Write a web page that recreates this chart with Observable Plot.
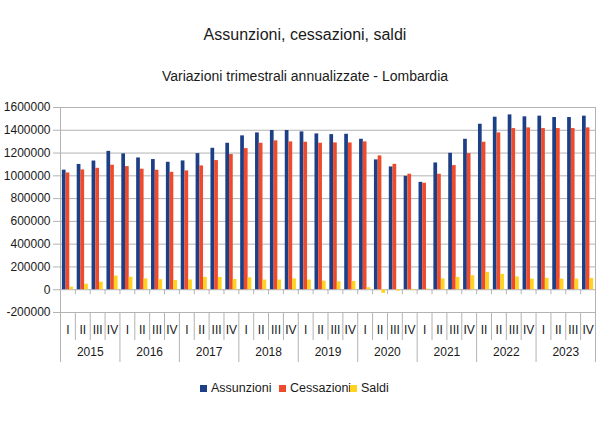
<!DOCTYPE html>
<html>
<head>
<meta charset="utf-8">
<script src="https://cdn.jsdelivr.net/npm/d3@7"></script>
<script src="https://cdn.jsdelivr.net/npm/@observablehq/plot@0.6"></script>
<style>
  html, body { margin: 0; padding: 0; background: #fff; }
  body { width: 610px; height: 431px; font-family: "Liberation Sans", Arial, sans-serif; color: #1a1a1a; position: relative; overflow: hidden; }
  #head { position: relative; height: 95px; }
  #title { position: absolute; top: 25px; left: 0; width: 610px; text-align: center; font-size: 16px; line-height: 20px; }
  #subtitle { position: absolute; top: 67px; left: 0; width: 610px; text-align: center; font-size: 14px; line-height: 18px; }
  #chart svg { display: block; }
  #legend { position: relative; height: 26px; font-size: 12.5px; line-height: 26px; white-space: nowrap; }
  #legend .item { position: absolute; top: 0; }
  #legend .sw { display: inline-block; width: 7px; height: 7px; margin-right: 4px; vertical-align: 0px; }
</style>
</head>
<body>
<div id="head">
  <div id="title">Assunzioni, cessazioni, saldi</div>
  <div id="subtitle">Variazioni trimestrali annualizzate - Lombardia</div>
</div>
<div id="chart"></div>
<div id="legend"></div>
<script>
// ---- data ----
const years = [2015, 2016, 2017, 2018, 2019, 2020, 2021, 2022, 2023];
const quarterLabels = [
  "I","II","III","IV", "I","II","III","IV", "I","II","III","IV",
  "I","II","III","IV", "I","II","III","IV", "I","II","III","IV",
  "I","II","III","IV", "II","II","III","IV", "I","II","III","IV"
];
const assunzioni = [
  1050000, 1100000, 1130000, 1215000,
  1193000, 1157000, 1143000, 1119000,
  1131000, 1195000, 1242000, 1286000,
  1351000, 1377000, 1398000, 1398000,
  1386000, 1368000, 1362000, 1365000,
  1321000, 1140000, 1078000, 996000,
  943000, 1113000, 1198000, 1321000,
  1453000, 1515000, 1535000, 1518000,
  1524000, 1512000, 1512000, 1524000
];
const cessazioni = [
  1025000, 1052000, 1066000, 1093000,
  1081000, 1058000, 1049000, 1031000,
  1043000, 1087000, 1134000, 1187000,
  1239000, 1286000, 1307000, 1298000,
  1295000, 1286000, 1289000, 1289000,
  1298000, 1175000, 1101000, 1014000,
  935000, 1014000, 1090000, 1195000,
  1295000, 1377000, 1415000, 1421000,
  1415000, 1415000, 1415000, 1421000
];
const saldi = [
  22000, 48000, 66000, 120000,
  110000, 95000, 88000, 80000,
  86000, 108000, 108000, 90000,
  105000, 85000, 85000, 95000,
  85000, 75000, 70000, 73000,
  18000, -32000, -12000, -8000,
  5000, 95000, 108000, 123000,
  152000, 135000, 112000, 93000,
  100000, 93000, 93000, 99000
];
const yTicks = [-200000, 0, 200000, 400000, 600000, 800000, 1000000, 1200000, 1400000, 1600000];
const seriesNames = ["Assunzioni", "Cessazioni", "Saldi"];
const seriesColors = ["#1c3f86", "#ee4a2b", "#ffd320"];

// ---- table ----
const table = assunzioni.map((a, i) => ({
  key: years[Math.floor(i / 4)] + "-" + (i % 4),
  year: years[Math.floor(i / 4)],
  qi: i % 4,
  ql: quarterLabels[i],
  assunzioni: a,
  cessazioni: cessazioni[i],
  saldi: saldi[i]
}));
const keys = table.map(d => d.key);

// ---- layout ----
const W = 610, H = 280, ML = 60, MR = 15, MT = 12, MB = 63;
const bw = (W - ML - MR) / keys.length;
const sub = bw / 4;
const grid = "#b3b3b3";
const yMin = yTicks[0];

const barOpts = (field, k) => ({
  x: "key", y: field, fill: seriesColors[k],
  insetLeft: sub * (0.5 + k), insetRight: bw - sub * (1.5 + k)
});

const chart = Plot.plot({
  width: W, height: H,
  marginLeft: ML, marginRight: MR, marginTop: MT, marginBottom: MB,
  style: { fontFamily: "'Liberation Sans', Arial, sans-serif", fontSize: "12px", color: "#1a1a1a", background: "#fff" },
  x: { type: "band", domain: keys, padding: 0, axis: null },
  y: { type: "linear", domain: [yTicks[0], yTicks[yTicks.length - 1]], axis: null },
  marks: [
    Plot.ruleY(yTicks, { y: d => d, stroke: grid, strokeWidth: 1 }),
    Plot.tickY(yTicks, { y: d => d, stroke: grid, insetLeft: -7, insetRight: W - ML - MR }),
    Plot.text(yTicks, { y: d => d, text: d => String(d), frameAnchor: "left", textAnchor: "end", dx: -10, fontSize: 12, fill: "#1a1a1a" }),
    Plot.ruleX([keys[0]], { x: d => d, dx: -bw / 2, stroke: grid }),
    Plot.ruleX([keys[keys.length - 1]], { x: d => d, dx: bw / 2, stroke: grid, insetBottom: -50 }),
    Plot.ruleX(keys, { x: d => d, dx: -bw / 2, y1: 0, y2: 0, insetBottom: -5, stroke: grid }),
    Plot.ruleX(table.filter(d => d.qi !== 0), { x: "key", dx: -bw / 2, y1: yMin, y2: yMin, insetBottom: -28, stroke: grid }),
    Plot.ruleX(table.filter(d => d.qi === 0), { x: "key", dx: -bw / 2, y1: yMin, y2: yMin, insetBottom: -50, stroke: grid }),
    Plot.barY(table, barOpts("assunzioni", 0)),
    Plot.barY(table, barOpts("cessazioni", 1)),
    Plot.barY(table, barOpts("saldi", 2)),
    Plot.text(table, { x: "key", text: "ql", frameAnchor: "bottom", lineAnchor: "middle", dy: 18, fontSize: 12, fill: "#1a1a1a" }),
    Plot.text(table.filter(d => d.qi === 1), { x: "key", text: d => String(d.year), frameAnchor: "bottom", lineAnchor: "middle", dx: bw / 2, dy: 40, fontSize: 12, fill: "#1a1a1a" })
  ]
});
document.getElementById("chart").appendChild(chart);

// ---- legend ----
const legend = document.getElementById("legend");
const lx = [200, 279, 350];
seriesNames.forEach((name, i) => {
  const it = document.createElement("span");
  it.className = "item";
  it.style.left = lx[i] + "px";
  const sw = document.createElement("span");
  sw.className = "sw";
  sw.style.background = seriesColors[i];
  it.appendChild(sw);
  it.appendChild(document.createTextNode(name));
  legend.appendChild(it);
});
</script>
</body>
</html>
